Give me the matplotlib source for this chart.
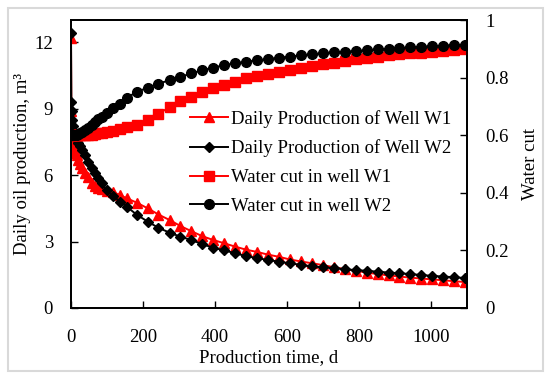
import matplotlib
matplotlib.use("Agg")
import matplotlib.pyplot as plt
from matplotlib.patches import Rectangle

plt.rcParams['font.family'] = ['Liberation Serif', 'DejaVu Serif']
plt.rcParams['font.size'] = 13.5

# production time, d
days = [0, 1, 2, 3, 5, 8, 12, 16, 20, 25, 30, 39, 48, 57, 67, 76, 85, 99, 118, 136,
        155, 182, 213, 243, 274, 304, 334, 365, 395, 426, 456, 487, 517, 547, 578,
        608, 639, 669, 699, 730, 760, 791, 821, 852, 882, 912, 943, 973, 1004, 1034,
        1064, 1095]

# daily oil production, m3
prod_w1 = [12.2, 8.9, 7.6, 7.45, 7.3, 7.15, 7.0, 6.9, 6.7, 6.48, 6.3, 6.1, 5.9, 5.65,
           5.5, 5.4, 5.35, 5.3, 5.22, 5.1, 4.95, 4.76, 4.5, 4.22, 3.97, 3.7, 3.47, 3.24,
           3.07, 2.92, 2.77, 2.63, 2.53, 2.41, 2.31, 2.19, 2.1, 2.02, 1.94, 1.84, 1.76,
           1.68, 1.6, 1.53, 1.47, 1.42, 1.37, 1.33, 1.29, 1.25, 1.21, 1.17]
prod_w2 = [12.4, 9.3, 8.9, 8.5, 8.2, 7.95, 7.75, 7.6, 7.45, 7.3, 7.15, 6.9, 6.6, 6.3,
           6.08, 5.86, 5.63, 5.33, 5.05, 4.8, 4.57, 4.22, 3.9, 3.62, 3.4, 3.22, 3.07,
           2.88, 2.72, 2.6, 2.47, 2.34, 2.25, 2.17, 2.09, 2.02, 1.95, 1.88, 1.84, 1.8,
           1.75, 1.71, 1.68, 1.64, 1.6, 1.57, 1.53, 1.49, 1.45, 1.42, 1.39, 1.35]

# water cut
wc_w1 = [0.6, 0.6, 0.6, 0.6, 0.6, 0.6, 0.6, 0.6, 0.6, 0.6, 0.6, 0.6, 0.601, 0.602,
         0.604, 0.606, 0.608, 0.611, 0.615, 0.62, 0.627, 0.636, 0.652, 0.675, 0.697,
         0.72, 0.734, 0.75, 0.763, 0.774, 0.786, 0.797, 0.804, 0.814, 0.82, 0.826,
         0.833, 0.84, 0.847, 0.852, 0.858, 0.864, 0.869, 0.873, 0.878, 0.881, 0.884,
         0.887, 0.89, 0.892, 0.896, 0.898]
wc_w2 = [0.605, 0.603, 0.602, 0.601, 0.6, 0.6, 0.6, 0.601, 0.603, 0.606, 0.61, 0.617,
         0.625, 0.634, 0.645, 0.655, 0.664, 0.677, 0.693, 0.708, 0.73, 0.75, 0.765,
         0.779, 0.791, 0.802, 0.815, 0.825, 0.835, 0.843, 0.85, 0.855, 0.86, 0.864,
         0.869, 0.873, 0.877, 0.881, 0.884, 0.888, 0.89, 0.892, 0.895, 0.898, 0.9,
         0.902, 0.905, 0.907, 0.909, 0.911, 0.913, 0.914]

fig = plt.figure(figsize=(5.5, 3.79), dpi=100)
fig.patches.append(Rectangle((8 / 550, 8 / 379), 535 / 550, 363 / 379,
                             transform=fig.transFigure, fill=False,
                             edgecolor='#d9d9d9', linewidth=1.5))
ax = fig.add_axes([71 / 550, 1 - 308 / 379, 396 / 550, 288 / 379])
ax2 = ax.twinx()

l1, = ax.plot(days, prod_w1, color='red', marker='^', markersize=7, linewidth=1.4,
              label='Daily Production of Well W1')
l2, = ax.plot(days, prod_w2, color='black', marker='D', markersize=5.5, linewidth=1.4,
              label='Daily Production of Well W2')
l3, = ax2.plot(days, wc_w1, color='red', marker='s', markersize=6.5, linewidth=1.4,
               label='Water cut in well W1')
l4, = ax2.plot(days, wc_w2, color='black', marker='o', markersize=7, linewidth=1.4,
               label='Water cut in well W2')

ax.set_xlim(0, 1100)
ax.set_ylim(0, 13)
ax2.set_ylim(0, 1)
ax.set_xticks([0, 200, 400, 600, 800, 1000])
ax.set_yticks([0, 3, 6, 9, 12])
ax2.set_yticks([0, 0.2, 0.4, 0.6, 0.8, 1.0])
ax2.set_yticklabels(['0', '0.2', '0.4', '0.6', '0.8', '1'])

for a in (ax, ax2):
    a.tick_params(direction='in', length=5, width=1, pad=13)
    for s in a.spines.values():
        s.set_linewidth(1.3)
ax.tick_params(axis='x', pad=15)

ax.set_xlabel('Production time, d', labelpad=2)
ax.set_ylabel('Daily oil production, m\u00b3', labelpad=2)
ax2.set_ylabel('Water cut', labelpad=10)

ax2.legend(handles=[l1, l2, l3, l4], loc='upper left',
           bbox_to_anchor=(190 / 550, 1 - 110 / 379), bbox_transform=fig.transFigure,
           frameon=False, borderpad=0, handlelength=2.0, handletextpad=0.2,
           labelspacing=0.62, borderaxespad=0)

fig.savefig('out.png', dpi=100)
